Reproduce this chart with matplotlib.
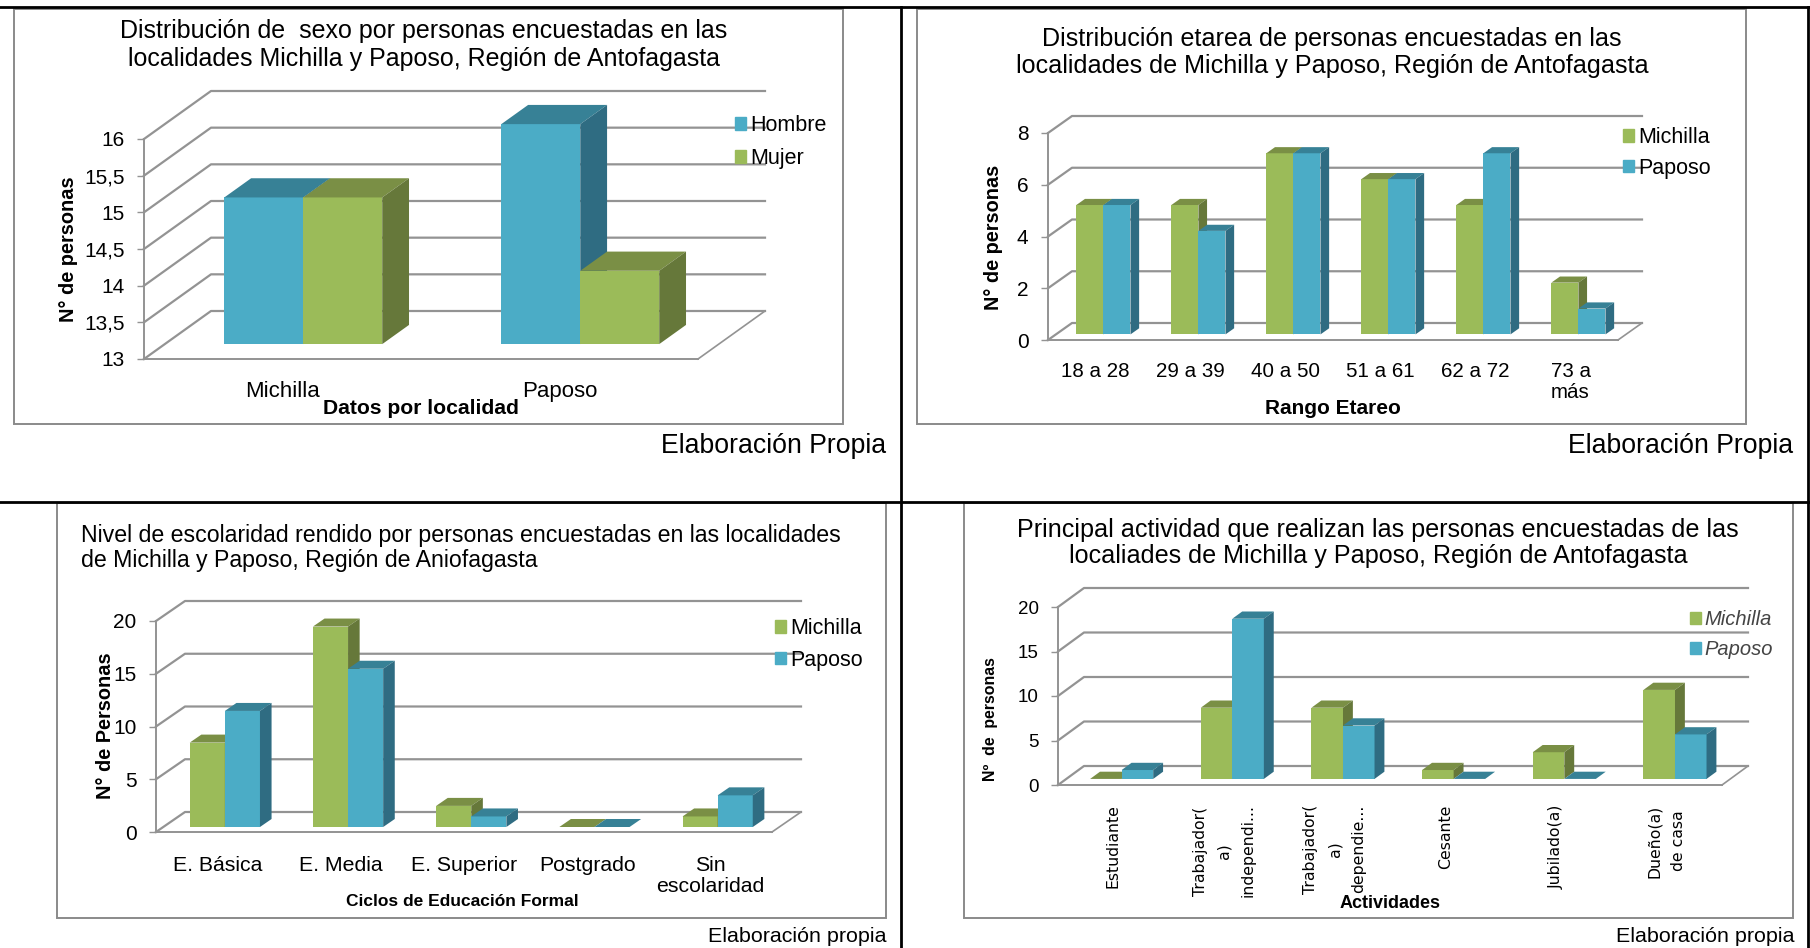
import matplotlib
matplotlib.use("Agg")
import matplotlib.pyplot as plt
from matplotlib.lines import Line2D
from matplotlib.patches import Patch, Rectangle

W, H = 1810, 948

GREEN = ("#9BBB59", "#7A8F45", "#66783A")
BLUE = ("#4BACC6", "#378196", "#2F6C82")
GRID = "#939393"
FRAME = "#8A8A8A"
FONT = "Liberation Sans"

# sexo
sexo_cats = ["Michilla", "Paposo"]
sexo_hombre = [15, 16]
sexo_mujer = [15, 14]
sexo_ticks = [13, 13.5, 14, 14.5, 15, 15.5, 16]
sexo_ticklabels = ["13", "13,5", "14", "14,5", "15", "15,5", "16"]

# edad
edad_cats = ["18 a 28", "29 a 39", "40 a 50", "51 a 61", "62 a 72", "73 a\nmás"]
edad_michilla = [5, 5, 7, 6, 5, 2]
edad_paposo = [5, 4, 7, 6, 7, 1]
edad_ticks = [0, 2, 4, 6, 8]

# escolaridad
esc_cats = ["E. Básica", "E. Media", "E. Superior", "Postgrado", "Sin\nescolaridad"]
esc_michilla = [8, 19, 2, 0, 1]
esc_paposo = [11, 15, 1, 0, 3]
esc_ticks = [0, 5, 10, 15, 20]

# actividad
act_cats = ["Estudiante", "Trabajador(\na)\nindependi...", "Trabajador(\na)\ndependie...",
            "Cesante", "Jubilado(a)", "Dueño(a)\nde casa"]
act_michilla = [0, 8, 8, 1, 3, 10]
act_paposo = [1, 18, 6, 0, 0, 5]
act_ticks = [0, 5, 10, 15, 20]


def px_box(left, top, right, bottom):
    return [left / W, 1 - bottom / H, (right - left) / W, (bottom - top) / H]


def fig_text(fig, x, y, s, **kw):
    kw.setdefault("family", FONT)
    kw.setdefault("color", "black")
    fig.text(x / W, 1 - y / H, s, **kw)


def frame(fig, left, top, right, bottom):
    fig.add_artist(Rectangle((left / W, 1 - bottom / H), (right - left) / W, (bottom - top) / H,
                             transform=fig.transFigure, fill=False, ec=FRAME, lw=1.4))


def chart_3d(fig, box, depth, cats, series, ylim, ticks, ticklabels=None,
             front=0.31, thick=0.4, bar_w=0.285, size=15.5, ysize=15, pad=14, linespacing=1.0):
    # box is the front plane of the axes, depth the (dx, dy) of the walls, in pixels
    left, top, right, bottom = box
    ax = fig.add_axes(px_box(left, top, right, bottom))
    n = len(cats)
    ax.set_xlim(0, n)
    ax.set_ylim(*ylim)
    ax.patch.set_visible(False)

    sx = depth[0] * n / (right - left)
    sy = depth[1] * (ylim[1] - ylim[0]) / (bottom - top)

    def proj(x, y, d):
        return x + d * sx, y + d * sy

    # walls and floor
    for t in ticks:
        x0, y0 = proj(0, t, 0)
        x1, y1 = proj(0, t, 1)
        x2, y2 = proj(n, t, 1)
        ax.plot([x0, x1, x2], [y0, y1, y2], color=GRID, lw=1.6, clip_on=False, zorder=1)
    fx, fy = proj(n, ylim[0], 1)
    ax.plot([n, fx], [ylim[0], fy], color=GRID, lw=1.2, clip_on=False, zorder=1)

    # bars, two per category, side by side
    for s, (vals, cols) in enumerate(series):
        for i, v in enumerate(vals):
            a = i + 0.5 - bar_w + s * bar_w
            b = a + bar_w
            pa = proj(a, ylim[0], front)
            ax.bar(pa[0], v - ylim[0], width=bar_w, bottom=pa[1], align="edge",
                   color=cols[0], clip_on=False, zorder=3 + s)
            # top face
            tx = [proj(a, v, front), proj(b, v, front), proj(b, v, front + thick), proj(a, v, front + thick)]
            ax.fill([p[0] for p in tx], [p[1] for p in tx], color=cols[1], lw=0, clip_on=False, zorder=3 + s)
            # side face
            sd = [proj(b, ylim[0], front), proj(b, v, front), proj(b, v, front + thick), proj(b, ylim[0], front + thick)]
            ax.fill([p[0] for p in sd], [p[1] for p in sd], color=cols[2], lw=0, clip_on=False, zorder=3 + s)

    for name in ("top", "right"):
        ax.spines[name].set_visible(False)
    for name in ("left", "bottom"):
        ax.spines[name].set_color(GRID)
        ax.spines[name].set_linewidth(1.4)
    ax.spines["left"].set_zorder(2)
    ax.spines["bottom"].set_zorder(2)

    ax.set_yticks(ticks)
    ax.set_yticklabels(ticklabels if ticklabels else [str(t) for t in ticks], family=FONT, fontsize=ysize)
    ax.tick_params(axis="y", length=5, width=1, color=GRID, pad=9)
    ax.set_xticks([i + 0.5 for i in range(n)])
    ax.set_xticklabels(cats, family=FONT, fontsize=size, linespacing=linespacing)
    ax.tick_params(axis="x", length=0, pad=pad)
    return ax


def add_legend(ax, labels, colors, x, y, size=15.5, spacing=0.7, color="black", **kw):
    handles = [Patch(color=c) for c in colors]
    ax.legend(handles, labels, loc="upper left", bbox_to_anchor=(x / W, 1 - y / H),
              bbox_transform=ax.figure.transFigure, frameon=False, handlelength=0.53, handleheight=0.53,
              handletextpad=0.17, labelspacing=spacing, borderpad=0, borderaxespad=0, labelcolor=color,
              prop={"family": FONT, "size": size, **kw})


def main():
    fig = plt.figure(figsize=(W / 100, H / 100), dpi=100, facecolor="white")

    # cuadro negro de la tabla
    for xs, ys in [((0, W), (7, 7)), ((0, W), (502, 502)), ((901, 901), (7, H)), ((1808, 1808), (7, H))]:
        fig.add_artist(Line2D([x / W for x in xs], [1 - y / H for y in ys], color="black", lw=2))

    frame(fig, 14, 9, 843, 424)
    frame(fig, 917, 9, 1746, 424)
    frame(fig, 57, 503, 886, 918)
    frame(fig, 964, 503, 1793, 918)

    # sexo
    ax = chart_3d(fig, (144, 139, 698, 359), (67, 48), sexo_cats,
                  [(sexo_hombre, BLUE), (sexo_mujer, GREEN)], (13, 16), sexo_ticks, sexo_ticklabels,
                  front=0.31, thick=0.4, size=16, pad=16)
    add_legend(ax, ["Hombre", "Mujer"], [BLUE[0], GREEN[0]], 735, 115, spacing=0.57)
    fig_text(fig, 424, 38, "Distribución de  sexo por personas encuestadas en las", ha="center", va="baseline", fontsize=18)
    fig_text(fig, 424, 66, "localidades Michilla y Paposo, Región de Antofagasta", ha="center", va="baseline", fontsize=18)
    fig_text(fig, 421, 409, "Datos por localidad", ha="center", va="center", fontsize=15.2, weight="bold")
    fig_text(fig, 68, 249, "N° de personas", rotation=90, ha="center", va="center", fontsize=14.4, weight="bold")
    fig_text(fig, 886, 446, "Elaboración Propia", ha="right", va="center", fontsize=19.2)

    # edad
    ax = chart_3d(fig, (1048, 133, 1618, 340), (24, 17), edad_cats,
                  [(edad_michilla, GREEN), (edad_paposo, BLUE)], (0, 8), edad_ticks,
                  front=0.33, thick=0.36, size=14.8, pad=16, linespacing=1.1)
    add_legend(ax, ["Michilla", "Paposo"], [GREEN[0], BLUE[0]], 1623, 127, spacing=0.45)
    fig_text(fig, 1332, 46, "Distribución etarea de personas encuestadas en las", ha="center", va="baseline", fontsize=18.1)
    fig_text(fig, 1332, 73, "localidades de Michilla y Paposo, Región de Antofagasta", ha="center", va="baseline", fontsize=18.1)
    fig_text(fig, 1333, 409, "Rango Etareo", ha="center", va="center", fontsize=15, weight="bold")
    fig_text(fig, 993, 237, "N° de personas", rotation=90, ha="center", va="center", fontsize=14.3, weight="bold")
    fig_text(fig, 1793, 446, "Elaboración Propia", ha="right", va="center", fontsize=19.2)

    # escolaridad
    ax = chart_3d(fig, (156, 621, 772, 832), (29, 20), esc_cats,
                  [(esc_michilla, GREEN), (esc_paposo, BLUE)], (0, 20), esc_ticks,
                  front=0.25, thick=0.4, size=15.3, pad=17, linespacing=1.15)
    add_legend(ax, ["Michilla", "Paposo"], [GREEN[0], BLUE[0]], 775, 618, spacing=0.5)
    fig_text(fig, 81, 542, "Nivel de escolaridad rendido por personas encuestadas en las localidades", ha="left", va="baseline", fontsize=16.7)
    fig_text(fig, 81, 567, "de Michilla y Paposo, Región de Aniofagasta", ha="left", va="baseline", fontsize=16.7)
    fig_text(fig, 462, 902, "Ciclos de Educación Formal", ha="center", va="center", fontsize=12.5, weight="bold")
    fig_text(fig, 105, 726, "N° de Personas", rotation=90, ha="center", va="center", fontsize=14.4, weight="bold")
    fig_text(fig, 886, 937, "Elaboración propia", ha="right", va="center", fontsize=15.4)

    # actividad
    ax = chart_3d(fig, (1058, 607, 1722, 785), (26, 19), act_cats,
                  [(act_michilla, GREEN), (act_paposo, BLUE)], (0, 20), act_ticks,
                  front=0.32, thick=0.38, size=13.5, ysize=13.5, pad=14)
    for label in ax.get_xticklabels():
        label.set_rotation(90)
        label.set_family("DejaVu Sans")
        label.set_fontsize(11.3)
        label.set_linespacing(1.75)
        label.set_multialignment("center")
    add_legend(ax, ["Michilla", "Paposo"], [GREEN[0], BLUE[0]], 1690, 610, size=14.5, spacing=0.55,
               color="#444444", style="italic")
    fig_text(fig, 1378, 537, "Principal actividad que realizan las personas encuestadas de las", ha="center", va="baseline", fontsize=18.1)
    fig_text(fig, 1378, 563, "localiades de Michilla y Paposo, Región de Antofagasta", ha="center", va="baseline", fontsize=18.1)
    fig_text(fig, 1390, 904, "Actividades", ha="center", va="center", fontsize=13, weight="bold")
    fig_text(fig, 991, 719, "Nº  de  personas", rotation=90, ha="center", va="center", fontsize=11.4, weight="bold")
    fig_text(fig, 1794, 937, "Elaboración propia", ha="right", va="center", fontsize=15.4)

    fig.savefig("out.png", dpi=100)


if __name__ == "__main__":
    main()
